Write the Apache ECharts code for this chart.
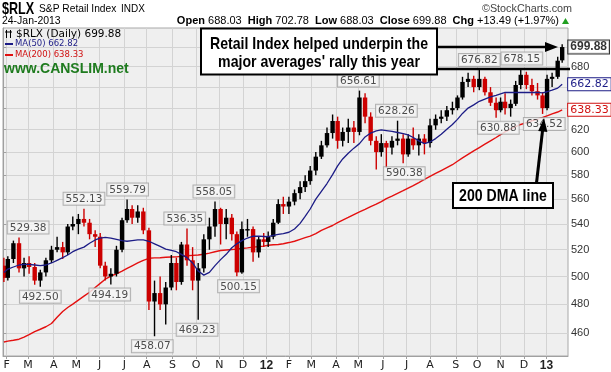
<!DOCTYPE html>
<html>
<head>
<meta charset="utf-8">
<script src="https://cdn.jsdelivr.net/npm/echarts@6.0.0/dist/echarts.min.js"></script>
<style>
html,body{margin:0;padding:0;background:#ffffff;}
#chart{width:611px;height:372px;}
</style>
</head>
<body>
<div id="chart"></div>
<script>
// ---------- data (weekly OHLC) ----------
const firstDay = '2011-01-27';
const lastDay = '2013-01-24';
const holidays = ['2011-02-21','2011-04-22','2011-05-30','2011-07-04','2011-09-05','2011-11-24','2011-12-26',
  '2012-01-02','2012-01-16','2012-02-20','2012-04-06','2012-05-28','2012-07-04','2012-09-03','2012-10-29',
  '2012-10-30','2012-11-22','2012-12-25','2013-01-01','2013-01-21'];

const weekStarts = [];
(function () { const t0 = Date.UTC(2011, 0, 24); for (let i = 0; i < 105; i++) weekStarts.push(new Date(t0 + i * 7 * 864e5).toISOString().slice(0, 10)); })();

const open = [508,499,513,525,506,510,507,497,503,512, 520,522,518,538,540,544,541,532,530,508,
  500,502,520,543,552,545,550,535,482,488, 480,492,510,496,524,512,497,506,528,538,
  552,540,545,532,503,536,536,518,528,526, 530,541,556,554,558,565,570,575,584,596,
  606,617,628,610,618,622,618,650,632,610, 600,608,604,610,612,598,612,606,612,608,
  624,630,632,638,640,650,665,668,660,668, 655,645,638,646,640,644,662,672,662,656,
  652,640,668,670,686.4];
const high = [514,515,527,529.38,514,515,510,505,514,523, 530,526,540,546,548,552.13,544,535,533,511,
  506,523,545,559.79,555,555,553,537,497,500, 496,516,514,526,536.35,522,510,532,545,558.05,
  553,552,548,534,542,544,538,530,533,534, 544,560,562,562,568,575,580,588,600,610,
  622,634,632,622,630,628,656.61,654,636,614, 616,610,614,628.26,616,616,622,616,616,630,
  634,638,642,646,652,670,674,671,676.82,670, 660,650,650,654,648,666,678.15,675,668,664,
  655,672,674,690,702.78];
const low = [496,497,510,503,500,502,494,492.5,500,510, 518,513,516,535,532,538,528,522,506,497,
  494.19,500,518,541,540,541,532,476,458.07,476, 466,490,490,494,508,490,469.23,503,520,530,
  524,528,527,500.15,502,530,511,514,522,522, 528,540,548,548,555,560,566,572,580,594,
  604,612,603,605,608,608,615,626,606,585, 596,586,598,606,590.38,596,602,597,598,604,
  620,626,628,634,638,648,660,655,657,652, 642,630.88,636,634,632,642,658,658,652,648,
  634.52,638,660,668,684];
const close = [499,513,525,506,510,507,497,503,512,520, 522,518,538,540,544,541,532,530,508,500,
  502,520,543,552,545,550,535,482,488,480, 492,510,496,524,512,497,506,528,538,552,
  540,545,532,503,536,536,518,528,526,530, 541,556,554,558,565,570,575,584,596,606,
  617,628,610,618,622,618,650,632,610,600, 608,604,610,612,598,612,606,612,608,624,
  630,632,638,640,650,665,668,660,668,655, 645,638,646,640,644,662,672,662,656,652,
  640,668,670,686,699.88];
const ma50 = [503,505.5,507,508.5,509,509,508.5,508,508.5,510, 512,514,516,518.5,520.5,522,525,527.5,529,529.5,
  529,528,527,526.5,527,527.5,527.5,526.5,524.5,522.5, 520.5,519.5,518.5,516.5,514,510,504,501,503,508,
  512.5,516.5,521.5,524.5,527,529,530.4,530.4,530.2,530, 531,531.8,532.5,533.5,536,540.5,546,552,560,566.5,
  573,580.5,588,594,599,603.5,607.5,613.5,617,619, 619.8,619.2,618.5,617.5,616.5,615.3,613,610,607.5,609,
  612,616,620.5,624.8,629.5,635,640,643,646.4,648.5, 650.5,652,653.5,654.8,654.8,654.8,654.8,654.8,654.8,654.8,
  654.5,655.5,657,659,662.82];
const ma200 = [454.2,454.8,455.4,456.1,457.5,459.2,461.2,462.8,464.5,466.7, 471,475,477.8,480.2,483,485.8,488.6,492,495,498,
  500.3,502,504,506,507.9,510,512,513.5,513.8,513.9, 514.3,514.5,514.6,515,515.4,515.7,516,516.6,517.4,518.5,
  519.4,519.8,520.2,520.5,520.9,521.4,522,522.4,522.8,523.4, 523.8,524,524.6,525.5,526.5,528,529.3,530.5,532.5,535,
  537,538.8,541,543,545.2,547.5,549.7,551.7,554,556, 558,560.5,562.6,564.8,567,569.2,571.2,573.8,576.5,579,
  581.5,584,586.5,589,592,595,598,601,604,607, 610,613,615.5,618,620.5,622.8,624.8,626.5,628.2,629.8,
  631.3,632.8,634.5,636.3,638.33];

const swingDates = ['2011-02-17','2011-03-16','2011-05-11','2011-06-14','2011-07-07','2011-08-08','2011-09-19',
  '2011-10-04','2011-10-25','2011-11-25','2012-05-01','2012-06-19','2012-06-28','2012-10-03','2012-10-26',
  '2012-11-29','2012-12-28'];
const swingValues = [529.38,492.50,552.13,494.19,559.79,458.07,536.35,469.23,558.05,500.15,656.61,628.26,590.38,
  676.82,630.88,678.15,634.52];
const swingSide = ['top','bottom','top','bottom','top','bottom','top','bottom','top','bottom','top','top','bottom',
  'top','bottom','top','bottom'];

const monthKeys = ['2011-02','2011-03','2011-04','2011-05','2011-06','2011-07','2011-08','2011-09','2011-10','2011-11',
  '2011-12','2012-01','2012-02','2012-03','2012-04','2012-05','2012-06','2012-07','2012-08','2012-09','2012-10',
  '2012-11','2012-12','2013-01'];
const monthLabels = ['F','M','A','M','J','J','A','S','O','N','D','12','F','M','A','M','J','J','A','S','O','N','D','13'];
const yTicks = [460,480,500,520,540,560,580,600,620,640,660,680,700];
const yLabels = [460,480,500,520,540,560,580,600,620,680];
const lastClose = 699.88;

// ---------- trading-day scale ----------
function ymd(t) { return new Date(t).toISOString().slice(0, 10); }
const tradingDays = [];
(function () {
  let t = Date.parse(firstDay + 'T00:00:00Z'); const e = Date.parse(lastDay + 'T00:00:00Z');
  while (t <= e) { const wd = new Date(t).getUTCDay(); const s = ymd(t);
    if (wd !== 0 && wd !== 6 && holidays.indexOf(s) < 0) tradingDays.push(s); t += 864e5; }
})();
function tIdx(s) { return tradingDays.indexOf(s); }
function weekPos(mon) {
  const t0 = Date.parse(mon + 'T00:00:00Z'); const a = [];
  for (let i = 0; i < 5; i++) { const j = tIdx(ymd(t0 + i * 864e5)); if (j >= 0) a.push(j); }
  return a.reduce((p, q) => p + q, 0) / a.length;
}
const L = Math.log;
const monthIdx = monthKeys.map(k => tradingDays.findIndex(d => d.indexOf(k) === 0));

const bars = weekStarts.map((m, i) => [weekPos(m), L(open[i]), L(high[i]), L(low[i]), L(close[i]),
  (i === 0 ? close[i] < open[i] : close[i] < close[i - 1]) ? 1 : 0]);
const ma50Data = weekStarts.map((m, i) => [weekPos(m), L(ma50[i])]);
const ma200Data = weekStarts.map((m, i) => [weekPos(m), L(ma200[i])]);
const swingData = swingDates.map((d, i) => ({ value: [tIdx(d), L(swingValues[i])],
  label: { position: swingSide[i], offset: i === 0 ? [8, 0] : [0, 0] } }));

const chart = echarts.init(document.getElementById('chart'), null, { renderer: 'canvas' });
const F = 'DejaVu Sans, Verdana, sans-serif';
const A = 'Liberation Sans, Arial, sans-serif';

function txt(text, x, y, font, fill, align, sx, z) {
  return { type: 'text', z: z || 100, x: x, y: y, scaleX: sx || 1, originX: 0, originY: 0,
    style: { text: text, x: 0, y: 0, font: font, fill: fill, align: align, textAlign: align,
      verticalAlign: 'middle', textVerticalAlign: 'middle' } };
}

chart.setOption({
  animation: false,
  backgroundColor: '#ffffff',
  grid: { left: 3, right: 43, top: 28, bottom: 16, show: true, backgroundColor: '#efefef',
    borderColor: '#a8a8a8', borderWidth: 1, containLabel: false, outerBoundsMode: 'none' },
  xAxis: {
    type: 'value', min: -0.3, max: 504.2,
    axisLine: { show: true, lineStyle: { color: '#a0a0a0' } },
    axisTick: { show: true, customValues: monthIdx, length: 3, lineStyle: { color: '#a0a0a0' } },
    axisLabel: { customValues: monthIdx, margin: 4, fontSize: 11, fontFamily: F, color: '#222',
      formatter: function (v) { const j = monthIdx.indexOf(v); const s = j >= 0 ? monthLabels[j] : '';
        return (s === '12' || s === '13') ? '{b|' + s + '}' : s; },
      rich: { b: { fontWeight: 'bold', fontSize: 12, fontFamily: A, color: '#222' } } },
    splitLine: { show: true, lineStyle: { color: '#d3d3d3', width: 1 } }
  },
  yAxis: {
    type: 'value', position: 'right', min: L(445), max: L(719.7), scale: true,
    axisLine: { show: true, lineStyle: { color: '#a0a0a0' } },
    axisTick: { show: true, customValues: yTicks.map(L), length: 3, lineStyle: { color: '#a0a0a0' } },
    axisLabel: { customValues: yLabels.map(L), margin: 3, fontSize: 11, fontFamily: A, color: '#333',
      formatter: function (v) { return String(Math.round(Math.exp(v))); } },
    splitLine: { show: true, lineStyle: { color: '#d3d3d3', width: 1 } }
  },
  series: [
    { type: 'line', name: 'MA(200)', data: ma200Data, showSymbol: false, symbol: 'none', z: 3,
      lineStyle: { color: '#e41010', width: 1.4 }, silent: true,
      endLabel: { show: true, distance: 6, formatter: function () { return ma200[ma200.length - 1].toFixed(2); },
        color: '#d01010', fontSize: 11, fontFamily: F, backgroundColor: '#ffffff', borderColor: '#d01010',
        borderWidth: 1, padding: [1, 2, 0, 2] } },
    { type: 'custom', name: '$RLX', data: bars, z: 4, clip: true, silent: true,
      encode: { x: 0, y: [1, 2, 3, 4] },
      renderItem: function (params, api) {
        const x = api.value(0);
        const pH = api.coord([x, api.value(2)]), pL = api.coord([x, api.value(3)]);
        const pO = api.coord([x, api.value(1)]), pC = api.coord([x, api.value(4)]);
        const col = api.value(5) ? '#cc0000' : '#000000';
        const bw = 4.4;
        const top = Math.min(pO[1], pC[1]);
        const h = Math.max(1.5, Math.abs(pO[1] - pC[1]));
        return { type: 'group', children: [
          { type: 'line', shape: { x1: pH[0], y1: pH[1], x2: pL[0], y2: pL[1] }, style: { stroke: col, lineWidth: 1.4 } },
          { type: 'rect', shape: { x: pO[0] - bw / 2, y: top, width: bw, height: h }, style: { fill: col } }
        ] };
      } },
    { type: 'line', name: 'MA(50)', data: ma50Data, showSymbol: false, symbol: 'none', z: 5,
      lineStyle: { color: '#1c1c86', width: 1.3 }, silent: true,
      endLabel: { show: true, distance: 6, formatter: function () { return ma50[ma50.length - 1].toFixed(2); },
        color: '#1c1c86', fontSize: 11, fontFamily: F, backgroundColor: '#ffffff', borderColor: '#1c1c86',
        borderWidth: 1, padding: [1, 2, 0, 2] } },
    { type: 'scatter', data: [[tIdx(lastDay), L(lastClose)]], symbolSize: 0, z: 6, silent: true,
      label: { show: true, position: 'right', distance: 5, formatter: lastClose.toFixed(2), color: '#000',
        fontWeight: 'bold', fontSize: 12, fontFamily: A, backgroundColor: '#ffffff', borderColor: '#000',
        borderWidth: 1, padding: [1, 2, 0, 2] } },
    { type: 'scatter', data: swingData, symbolSize: 0, z: 7, silent: true,
      label: { show: true, distance: 4, fontSize: 10.5, fontFamily: F, color: '#222',
        backgroundColor: '#f6f6f6', borderColor: '#a0a0a0', borderWidth: 1, padding: [1, 2, 0, 2],
        formatter: function (p) { return swingValues[p.dataIndex].toFixed(2); } } }
  ],
  graphic: [
    txt('$RLX', 2, 9, 'bold 17px ' + A, '#000', 'left', 0.74),
    txt('S&P Retail Index', 39, 9, '11px ' + A, '#000', 'left', 0.93),
    txt('INDX', 121, 9, '10.5px ' + A, '#000', 'left', 0.95),
    txt('\u00a9StockCharts.com', 572, 9, '11px ' + A, '#444', 'right', 0.98),
    txt('24-Jan-2013', 2, 21, '11px ' + A, '#000', 'left', 0.95),
    { type: 'text', z: 100, style: {
      text: '{b|Open} 688.03  {b|High} 702.78  {b|Low} 688.03  {b|Close} 699.88  {b|Chg} +13.49 (+1.97%)',
      x: 559, y: 21, font: '11px ' + A, fill: '#000', align: 'right', textAlign: 'right', verticalAlign: 'middle', textVerticalAlign: 'middle',
      rich: { b: { fontWeight: 'bold', fontSize: 11, fontFamily: A, fill: '#000' } } } },
    { type: 'polygon', z: 100, shape: { points: [[562, 24], [569, 24], [565.5, 18]] }, style: { fill: '#22a022' } },
    // legend
    { type: 'line', z: 100, shape: { x1: 6.5, y1: 30, x2: 6.5, y2: 38 }, style: { stroke: '#000', lineWidth: 1 } },
    { type: 'line', z: 100, shape: { x1: 10.5, y1: 30, x2: 10.5, y2: 38 }, style: { stroke: '#000', lineWidth: 1 } },
    { type: 'line', z: 100, shape: { x1: 5, y1: 32, x2: 12, y2: 32 }, style: { stroke: '#000', lineWidth: 1 } },
    txt('$RLX (Daily) 699.88', 16, 34, '10.5px ' + F, '#000', 'left', 1),
    { type: 'line', z: 100, shape: { x1: 5, y1: 44, x2: 13, y2: 44 }, style: { stroke: '#1c1c86', lineWidth: 2 } },
    txt('MA(50) 662.82', 15, 44, '8.5px ' + F, '#1c1c86', 'left', 1),
    { type: 'line', z: 100, shape: { x1: 5, y1: 55, x2: 13, y2: 55 }, style: { stroke: '#e01010', lineWidth: 2 } },
    txt('MA(200) 638.33', 15, 55, '8.5px ' + F, '#d01010', 'left', 1),
    txt('www.CANSLIM.net', 4, 69, 'bold 14px ' + A, '#1e7b1e', 'left', 1),
    // annotation box 1
    { type: 'line', z: 100, shape: { x1: 437, y1: 69, x2: 570, y2: 69 }, style: { stroke: '#000', lineWidth: 2.5 } },
    { type: 'line', z: 100, shape: { x1: 437, y1: 47, x2: 547, y2: 47 }, style: { stroke: '#000', lineWidth: 2.5 } },
    { type: 'polygon', z: 100, shape: { points: [[545, 42], [558, 47], [545, 52]] }, style: { fill: '#000' } },
    { type: 'rect', z: 100, shape: { x: 201, y: 28.5, width: 236, height: 46 }, style: { fill: '#fff', stroke: '#000', lineWidth: 2 } },
    txt('Retail Index helped underpin the', 319, 44, 'bold 17px ' + A, '#000', 'center', 0.83, 101),
    txt("major averages' rally this year", 319, 62, 'bold 17px ' + A, '#000', 'center', 0.83, 101),
    // annotation box 2
    { type: 'line', z: 100, shape: { x1: 536.5, y1: 183, x2: 542.6, y2: 130 }, style: { stroke: '#000', lineWidth: 3 } },
    { type: 'polygon', z: 100, shape: { points: [[544, 118], [538.2, 131], [547.4, 132]] }, style: { fill: '#000' } },
    { type: 'rect', z: 100, shape: { x: 453, y: 183, width: 100, height: 25 }, style: { fill: '#fff', stroke: '#000', lineWidth: 2 } },
    txt('200 DMA line', 503, 196, 'bold 17px ' + A, '#000', 'center', 0.83, 101)
  ]
});
</script>
</body>
</html>
